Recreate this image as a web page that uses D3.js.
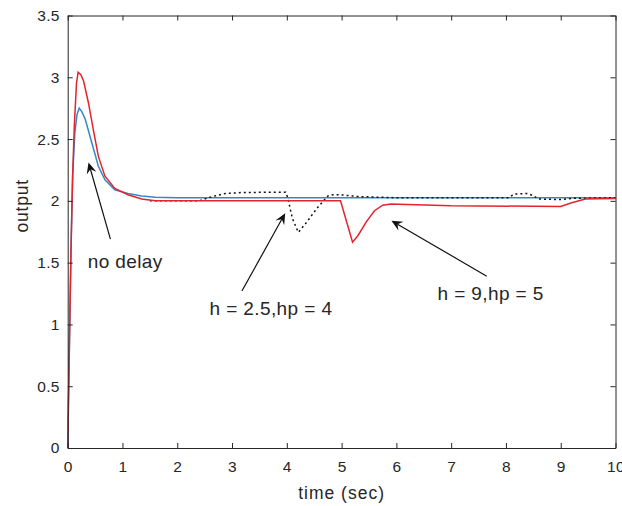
<!DOCTYPE html>
<html>
<head>
<meta charset="utf-8">
<script src="https://cdn.jsdelivr.net/npm/d3@7"></script>
<style>
  body { margin: 0; background: #fff; }
  text { font-family: "Liberation Sans", Arial, sans-serif; fill: #262626; }
</style>
</head>
<body>
<svg id="chart" width="622" height="506"></svg>
<script>
// time (sec) / output for each curve
const noDelayT = [0, 0.03, 0.06, 0.09, 0.13, 0.17, 0.21, 0.26, 0.32, 0.44, 0.56, 0.68, 0.86, 1.1, 1.35, 1.6, 2, 10];
const noDelayY = [0, 0.8, 1.6, 2.2, 2.55, 2.7, 2.75, 2.72, 2.66, 2.47, 2.28, 2.17, 2.09, 2.06, 2.04, 2.03, 2.025, 2.025];

const delay1T = [1.5, 2.4, 2.6, 2.85, 3.2, 3.98, 4.02, 4.1, 4.21, 4.35, 4.55, 4.75, 4.85, 5.0, 5.3, 6, 8.05, 8.15, 8.4, 8.5, 8.6, 9.0, 9.2, 10];
const delay1Y = [2.0, 2.0, 2.03, 2.058, 2.068, 2.07, 2.02, 1.86, 1.745, 1.82, 1.94, 2.04, 2.05, 2.048, 2.035, 2.025, 2.025, 2.055, 2.06, 2.04, 2.015, 2.01, 2.02, 2.025];

const delay2T = [0, 0.03, 0.06, 0.09, 0.12, 0.16, 0.19, 0.24, 0.29, 0.38, 0.47, 0.56, 0.68, 0.86, 1.1, 1.35, 1.6, 4.98, 5.2, 5.3, 5.45, 5.6, 5.75, 5.9, 6.2, 7, 9.0, 9.2, 9.45, 10];
const delay2Y = [0, 0.8, 1.6, 2.2, 2.6, 2.95, 3.04, 3.02, 2.97, 2.79, 2.57, 2.36, 2.2, 2.1, 2.05, 2.015, 2.0, 2.0, 1.665, 1.72, 1.83, 1.92, 1.965, 1.975, 1.97, 1.96, 1.955, 1.985, 2.015, 2.02];

const xTicks = [0, 1, 2, 3, 4, 5, 6, 7, 8, 9, 10];
const yTicks = [0, 0.5, 1, 1.5, 2, 2.5, 3, 3.5];

// annotations in data units: label, text point, arrow tail, arrow tip
const noteLabels = ["no delay", "h = 2.5,hp = 4", "h = 9,hp = 5"];
const noteText = [[1.05, 1.46], [3.71, 1.08], [7.72, 1.2]];
const noteTail = [[0.78, 1.69], [3.18, 1.27], [7.65, 1.39]];
const noteTip = [[0.38, 2.31], [3.97, 1.9], [5.91, 1.84]];

const svg = d3.select("#chart");
const plotLeft = 67.7, plotRight = 615.5, plotTop = 15.5, plotBottom = 448;

const x = d3.scaleLinear().domain([0, 10]).range([plotLeft, plotRight]);
const y = d3.scaleLinear().domain([0, 3.5]).range([plotBottom, plotTop]);

const line = d3.line().x(d => x(d[0])).y(d => y(d[1]));
const pairs = (ts, vs) => ts.map((t, i) => [t, vs[i]]);

// curves: blue, dotted, red on top
svg.append("path")
  .attr("d", line(pairs(noDelayT, noDelayY)))
  .attr("fill", "none").attr("stroke", "#3389c8").attr("stroke-width", 1.5);

svg.append("path")
  .attr("d", line(pairs(delay1T, delay1Y)))
  .attr("fill", "none").attr("stroke", "#111").attr("stroke-width", 1.5)
  .attr("stroke-dasharray", "2,3");

svg.append("path")
  .attr("d", line(pairs(delay2T, delay2Y)))
  .attr("fill", "none").attr("stroke", "#e5232d").attr("stroke-width", 1.5);

// box with inward ticks on all sides
const axisColor = "#262626";
const fmt = d3.format("~g");
const bottomAxis = svg.append("g").attr("transform", `translate(0,${plotBottom})`)
  .call(d3.axisBottom(x).tickValues(xTicks).tickFormat(fmt).tickSizeInner(-5).tickSizeOuter(0).tickPadding(13));
const topAxis = svg.append("g").attr("transform", `translate(0,${plotTop})`)
  .call(d3.axisTop(x).tickValues(xTicks).tickSizeInner(-5).tickSizeOuter(0).tickFormat(""));
const leftAxis = svg.append("g").attr("transform", `translate(${plotLeft},0)`)
  .call(d3.axisLeft(y).tickValues(yTicks).tickFormat(fmt).tickSizeInner(-5).tickSizeOuter(0).tickPadding(8));
const rightAxis = svg.append("g").attr("transform", `translate(${plotRight},0)`)
  .call(d3.axisRight(y).tickValues(yTicks).tickSizeInner(-5).tickSizeOuter(0).tickFormat(""));

[bottomAxis, topAxis, leftAxis, rightAxis].forEach(g => {
  g.select(".domain").attr("stroke", axisColor).attr("stroke-width", 1);
  g.selectAll(".tick line").attr("stroke", axisColor);
  g.selectAll(".tick text").style("font-size", "15.5px").style("letter-spacing", "0.3px")
    .style("font-family", "Liberation Sans, Arial, sans-serif").attr("fill", axisColor);
});

svg.append("text")
  .attr("x", (plotLeft + plotRight) / 2).attr("y", 499)
  .attr("text-anchor", "middle")
  .style("font-size", "17.5px").style("letter-spacing", "1px")
  .text("time (sec)");

svg.append("text")
  .attr("transform", `translate(28,${(plotTop + plotBottom) / 2 - 26}) rotate(-90)`)
  .attr("text-anchor", "middle")
  .style("font-size", "17.5px").style("letter-spacing", "0.8px")
  .text("output");

// arrows with notched heads
noteLabels.forEach((label, i) => {
  const x0 = x(noteTail[i][0]), y0 = y(noteTail[i][1]);
  const x1 = x(noteTip[i][0]), y1 = y(noteTip[i][1]);
  const ang = Math.atan2(y1 - y0, x1 - x0);
  const len = 11, wid = 5, notch = 7;
  const ux = Math.cos(ang), uy = Math.sin(ang);
  const bx = x1 - ux * len, by = y1 - uy * len;
  const nx = x1 - ux * notch, ny = y1 - uy * notch;
  svg.append("line")
    .attr("x1", x0).attr("y1", y0).attr("x2", nx).attr("y2", ny)
    .attr("stroke", "#111").attr("stroke-width", 1.2);
  svg.append("path")
    .attr("d", `M${x1},${y1} L${bx - uy * wid},${by + ux * wid} L${nx},${ny} L${bx + uy * wid},${by - ux * wid} Z`)
    .attr("fill", "#111");
  svg.append("text")
    .attr("x", x(noteText[i][0])).attr("y", y(noteText[i][1]))
    .attr("text-anchor", "middle")
    .style("font-size", "19px").style("letter-spacing", "0.4px")
    .text(label);
});
</script>
</body>
</html>
